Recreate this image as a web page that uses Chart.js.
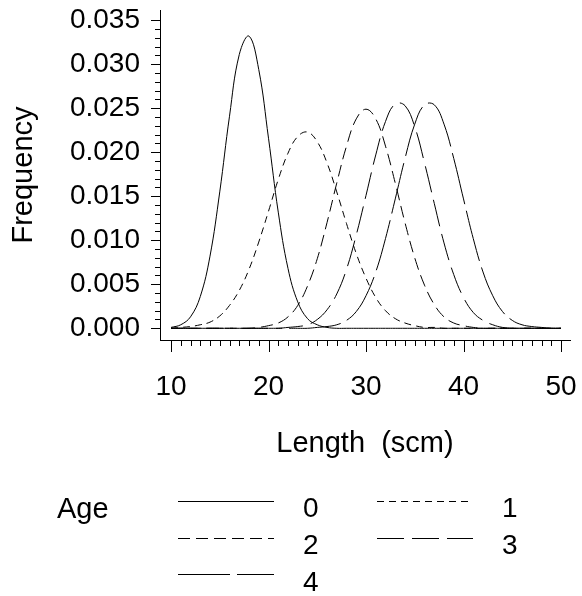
<!DOCTYPE html>
<html>
<head>
<meta charset="utf-8">
<script src="https://cdn.jsdelivr.net/npm/chart.js@4/dist/chart.umd.min.js"></script>
<style>
html,body{margin:0;padding:0;background:#fff;}
canvas{display:block;}
</style>
</head>
<body>
<canvas id="c" width="582" height="596"></canvas>
<script>
// ---- data ----
const lengths = [10,11,12,13,14,15,16,17,18,19,20,21,22,23,24,25,26,27,28,29,30,
                 31,32,33,34,35,36,37,38,39,40,41,42,43,44,45,46,47,48,49,50];
const age0 = [0.0001,0.0004,0.0013,0.0036,0.0082,0.0155,0.0241,0.0311,0.0332,0.0294,0.0216,
              0.0132,0.0068,0.0030,0.0011,0.0004,0.0001,0,0,0,0,
              0,0,0,0,0,0,0,0,0,0,0,0,0,0,0,0,0,0,0,0];
const age1 = [0,0.0001,0.0002,0.0004,0.0007,0.0014,0.0026,0.0043,0.0067,0.0098,0.0133,
              0.0169,0.0199,0.0218,0.0223,0.0212,0.0188,0.0155,0.0119,0.0085,0.0057,
              0.0035,0.0020,0.0011,0.0006,0.0003,0.0001,0.0001,0,0,0,0,0,0,0,0,0,0,0,0,0];
const age2 = [0,0,0,0,0,0,0,0,0,0.0001,0.0003,
              0.0006,0.0013,0.0026,0.0048,0.0079,0.0120,0.0165,0.0207,0.0238,0.0249,
              0.0238,0.0207,0.0165,0.0120,0.0080,0.0049,0.0027,0.0013,0.0006,0.0003,
              0.0001,0,0,0,0,0,0,0,0,0];
const age3 = [0,0,0,0,0,0,0,0,0,0,0,
              0,0.0001,0.0002,0.0004,0.0010,0.0021,0.0039,0.0067,0.0106,0.0151,
              0.0197,0.0235,0.0255,0.0253,0.0229,0.0188,0.0142,0.0097,0.0061,0.0035,
              0.0018,0.0009,0.0004,0.0001,0,0,0,0,0,0];
const age4 = [0,0,0,0,0,0,0,0,0,0,0,
              0,0,0,0,0.0001,0.0002,0.0004,0.0009,0.0019,0.0037,
              0.0064,0.0102,0.0147,0.0193,0.0232,0.0254,0.0254,0.0232,0.0193,0.0147,
              0.0102,0.0064,0.0037,0.0019,0.0009,0.0004,0.0002,0.0001,0,0];
const ageLabels = ['0','1','2','3','4'];
const xTickValues = [10,20,30,40,50];
const yTickValues = [0,0.005,0.010,0.015,0.020,0.025,0.030,0.035];
const legendTitle = 'Age';
const xTitle = 'Length  (scm)';
const yTitle = 'Frequency';

// ---- styles ----
const FONT = "'Liberation Sans', Arial, Helvetica, sans-serif";
const dashes = [[], [7,5], [12,6], [27,8], [52,7]];
const series = [age0, age1, age2, age3, age4];

const zeroPad = s => { s.paddingLeft = 0; s.paddingRight = 0; s.paddingTop = 0; s.paddingBottom = 0; };

const axisTicks = {
  id: 'axisTicks',
  afterDraw(chart) {
    const {ctx, scales: {x, y}} = chart;
    ctx.save();
    ctx.strokeStyle = '#000';
    ctx.lineWidth = 1;
    ctx.beginPath();
    for (let v = xTickValues[0]; v <= xTickValues[xTickValues.length - 1]; v += 1) {
      const px = Math.round(x.getPixelForValue(v)) + 0.5;
      const len = xTickValues.includes(v) ? 12 : 6;
      ctx.moveTo(px, x.top);
      ctx.lineTo(px, x.top + len);
    }
    for (let k = 0; k <= 35; k++) {
      const v = k / 1000;
      const py = Math.round(y.getPixelForValue(v)) + 0.5;
      const len = (k % 5 === 0) ? 9 : 5;
      ctx.moveTo(y.right, py);
      ctx.lineTo(y.right - len, py);
    }
    ctx.stroke();
    ctx.restore();
  }
};

const ageLegend = {
  id: 'ageLegend',
  afterDraw(chart) {
    const ctx = chart.ctx;
    ctx.save();
    ctx.fillStyle = '#000';
    ctx.textBaseline = 'alphabetic';
    ctx.textAlign = 'left';
    ctx.font = '29px ' + FONT;
    ctx.fillText(legendTitle, 57, 518);
    ctx.font = '28px ' + FONT;
    chart.data.datasets.forEach((ds, i) => {
      const col = i % 2, row = Math.floor(i / 2);
      const x0 = 178 + col * 199;
      const ly = Math.round(501 + row * 36.5) + 0.5;
      ctx.strokeStyle = '#000';
      ctx.lineWidth = 1;
      ctx.setLineDash(ds.borderDash || []);
      ctx.beginPath();
      ctx.moveTo(x0, ly);
      ctx.lineTo(x0 + 96, ly);
      ctx.stroke();
      ctx.setLineDash([]);
      ctx.fillText(ds.label, x0 + 125, 517 + row * 37);
    });
    ctx.restore();
  }
};

new Chart(document.getElementById('c'), {
  type: 'line',
  data: {
    datasets: series.map((arr, i) => ({
      label: ageLabels[i],
      data: lengths.map((L, j) => ({x: L, y: arr[j]})),
      borderColor: '#000',
      borderWidth: 1,
      borderDash: dashes[i],
      pointRadius: 0,
      tension: 0.4,
      fill: false
    }))
  },
  options: {
    responsive: false,
    devicePixelRatio: 1,
    animation: false,
    layout: { padding: { left: 0, right: 12, top: 10, bottom: 135 } },
    plugins: { legend: { display: false }, tooltip: { enabled: false } },
    scales: {
      x: {
        type: 'linear', position: 'bottom', bounds: 'data',
        min: 10 - 11 / 9.75, max: 50 + 9 / 9.75,
        afterBuildTicks: s => { s.ticks = xTickValues.map(v => ({value: v})); },
        ticks: { autoSkip: false, maxRotation: 0, minRotation: 0, padding: 30, color: '#000',
                 font: { family: FONT, size: 28 }, callback: v => String(v) },
        grid: { display: false, drawTicks: false },
        border: { display: true, color: '#000', width: 1 },
        title: { display: true, text: xTitle, color: '#000', font: { family: FONT, size: 29 },
                 padding: { top: 0, bottom: 0 } },
        afterFit: s => { s.height = 121; zeroPad(s); }
      },
      y: {
        type: 'linear', position: 'left', bounds: 'data',
        min: -0.00133, max: 0.03617,
        afterBuildTicks: s => { s.ticks = yTickValues.map(v => ({value: v})); },
        ticks: { autoSkip: false, padding: 20, color: '#000',
                 font: { family: FONT, size: 28 }, callback: v => Number(v).toFixed(3) },
        grid: { display: false, drawTicks: false },
        border: { display: true, color: '#000', width: 1 },
        title: { display: true, text: yTitle, color: '#000', font: { family: FONT, size: 29 },
                 padding: { top: 7, bottom: 0 } },
        afterFit: s => { s.width = 160; zeroPad(s); }
      }
    }
  },
  plugins: [axisTicks, ageLegend]
});
</script>
</body>
</html>
